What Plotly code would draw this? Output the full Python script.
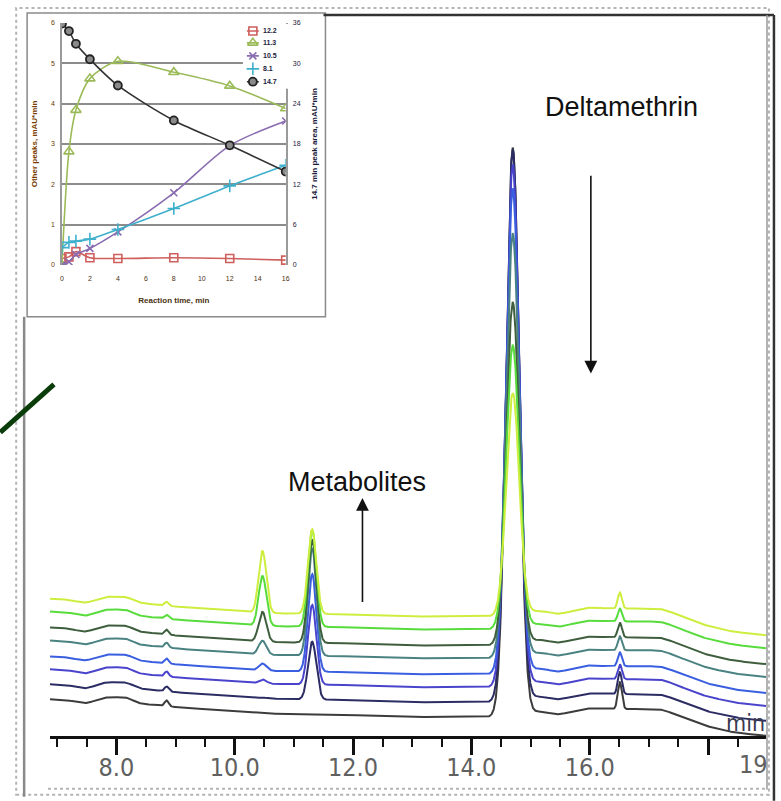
import numpy as np
import plotly.graph_objects as go

# ---------------- inset: peak areas against reaction time ----------------
reaction_time = [0, 0.5, 1, 2, 4, 8, 12, 16]
area_12_2 = [0.16, 0.20, 0.33, 0.18, 0.16, 0.18, 0.16, 0.12]
area_11_3 = [0.0, 2.81, 3.84, 4.62, 5.05, 4.78, 4.44, 3.88]
area_10_5 = [0.0, 0.08, 0.26, 0.41, 0.82, 1.79, 2.96, 3.57]
area_8_1 = [0.43, 0.56, 0.59, 0.64, 0.88, 1.40, 1.96, 2.47]
area_14_7 = [35.9, 34.8, 32.9, 30.6, 26.7, 21.5, 17.8, 13.9]
inset_labels = ["12.2", "11.3", "10.5", "8.1", "14.7"]
inset_x_ticks = [0, 2, 4, 6, 8, 10, 12, 14, 16]
inset_left_ticks = [0, 1, 2, 3, 4, 5, 6]
inset_right_ticks = [0, 6, 12, 18, 24, 30, 36]

# ---------------- chromatogram overlay (one run per reaction time) ----------------
# runs listed bottom to top: 0, 0.5, 1, 2, 4, 8, 12, 16 min
run_colors = ["#3c3c3c", "#2c2c64", "#4a44cc", "#3a5ee0",
              "#4a8282", "#3e5e3e", "#58dc3c", "#cdee3e"]
run_offsets = [0, 15, 30, 43, 59, 72, 88, 101]

# baseline of the lowest run (signal units)
baseline_rt = [6.88, 7.2, 7.47, 7.8, 8.2, 8.35, 8.8, 9.2, 10.0, 10.3, 10.9, 12.0,
               12.8, 14.4, 15.2, 15.45, 15.95, 16.4, 17.2, 17.35, 17.9, 18.4, 18.98]
baseline_level = [37, 36, 32, 39, 39, 33, 30, 28, 25, 23, 22, 21,
                  19, 19, 25, 21, 28, 27, 27, 24, 11, 4, 0]

# peak retention times / widths and heights per run
peak_rt = [8.85, 10.47, 11.31, 14.70, 16.51]
peak_sigma = [0.035, 0.065, 0.07, 0.11, 0.035]
height_8_85 = [6, 5, 5, 5, 5, 5, 4, 4]
height_10_47 = [0, 1, 4, 7, 14, 30, 50, 62]
height_11_31 = [0, 58, 80, 98, 108, 103, 97, 85]
height_14_70 = [569, 552, 522, 485, 424, 342, 283, 222]
height_16_51 = [27, 22, 15, 14, 14, 15, 13, 16]
peak_heights = [height_8_85, height_10_47, height_11_31, height_14_70, height_16_51]

rt_range = [6.879, 18.98]
rt_major = [8, 10, 12, 14, 16, 18]
rt_major_text = ["8.0", "10.0", "12.0", "14.0", "16.0", ""]

# ---------------- page geometry ----------------
W, H = 781, 801
ML, MR, MT, MB = 50, 11, 12, 65
PW, PH = W - ML - MR, H - MT - MB


def fx(px):
    return (px - ML) / PW


def fy(py):
    return (H - MB - py) / PH


fig = go.Figure()

# chromatogram runs
rt = np.linspace(rt_range[0], rt_range[1], 2400)
base = np.interp(rt, baseline_rt, baseline_level)
kern = np.exp(-0.5 * (np.arange(-40, 41) / 14.0) ** 2)
kern /= kern.sum()
base = np.convolve(np.pad(base, 40, mode="edge"), kern, mode="valid")

for i, (col, off) in enumerate(zip(run_colors, run_offsets)):
    sig = base + off
    for rt0, sg, hts in zip(peak_rt, peak_sigma, peak_heights):
        sig = sig + hts[i] * np.exp(-0.5 * ((rt - rt0) / sg) ** 2)
    fig.add_trace(go.Scatter(x=rt, y=sig, mode="lines",
                             line=dict(color=col, width=2),
                             xaxis="x", yaxis="y", showlegend=False,
                             hoverinfo="skip"))

# inset series
inset_series = [
    (area_12_2, "#cf5f5c", dict(symbol="square-open", size=8, line=dict(width=1.6)), "y2"),
    (area_11_3, "#9bbb59", dict(symbol="triangle-up-open", size=9, line=dict(width=1.6)), "y2"),
    (area_10_5, "#8a6cb0", dict(symbol="x-thin", size=7, line=dict(width=1.6, color="#8a6cb0")), "y2"),
    (area_8_1, "#3fb0cc", dict(symbol="cross-thin", size=9, line=dict(width=1.6, color="#3fb0cc")), "y2"),
    (area_14_7, "#333333", dict(symbol="circle", size=8, color="#8a8a8a",
                                 line=dict(width=1.8, color="#222222")), "y3"),
]
for (vals, col, mk, yax), name in zip(inset_series, inset_labels):
    mk = dict(mk)
    mk.setdefault("color", col)
    fig.add_trace(go.Scatter(x=reaction_time, y=vals, mode="lines+markers", name=name,
                             line=dict(color=col, width=1.6, shape="spline", smoothing=0.8),
                             marker=mk, xaxis="x2", yaxis=yax, showlegend=False,
                             hoverinfo="skip"))

# inset legend (drawn on its own small axes)
legend_rows = [28, 40, 53, 66, 79]
for (vals, col, mk, yax), name, row in zip(inset_series, inset_labels, legend_rows):
    mk = dict(mk)
    mk.setdefault("color", col)
    fig.add_trace(go.Scatter(x=[248, 260], y=[row, row], mode="lines",
                             line=dict(color=col, width=1.6), xaxis="x4", yaxis="y4",
                             showlegend=False, hoverinfo="skip"))
    fig.add_trace(go.Scatter(x=[254], y=[row], mode="markers", marker=mk,
                             xaxis="x4", yaxis="y4", showlegend=False, hoverinfo="skip"))

annotations = []
for name, row in zip(inset_labels, legend_rows):
    annotations.append(dict(x=262, y=row, xref="x4", yref="y4", text="<b>%s</b>" % name,
                            showarrow=False, xanchor="left", yanchor="middle",
                            font=dict(size=7, color="#1a1a3a", family="Liberation Sans")))

label_font = dict(family="Liberation Sans, Arial, sans-serif", size=27, color="#111111")
narrow = "Liberation Sans Narrow, Arial Narrow, DejaVu Sans Condensed, Liberation Sans"
annotations += [
    dict(x=fx(625), y=fy(104), xref="paper", yref="paper", text="Deltamethrin",
         showarrow=False, xanchor="center", yanchor="middle", font=label_font),
    dict(x=fx(359), y=fy(481), xref="paper", yref="paper", text="Metabolites",
         showarrow=False, xanchor="center", yanchor="middle", font=label_font),
    # arrows
    dict(x=16.02, y=PH - (372 - MT), xref="x", yref="y", ax=16.02, ay=PH - (172 - MT),
         axref="x", ayref="y", text="", showarrow=True, arrowhead=2, arrowsize=1.6,
         arrowwidth=1.6, arrowcolor="#111111"),
    dict(x=12.16, y=PH - (497 - MT), xref="x", yref="y", ax=12.16, ay=PH - (603 - MT),
         axref="x", ayref="y", text="", showarrow=True, arrowhead=2, arrowsize=1.6,
         arrowwidth=1.6, arrowcolor="#111111"),
    dict(x=fx(774), y=fy(765), xref="paper", yref="paper", text="19", showarrow=False,
         xanchor="right", yanchor="middle",
         font=dict(family=narrow, size=25, color="#606060")),
    dict(x=fx(771), y=fy(723), xref="paper", yref="paper", text="min", showarrow=False,
         xanchor="right", yanchor="middle",
         font=dict(family=narrow, size=23, color="#3a3a50")),
]

shapes = [
    # inset panel
    dict(type="rect", xref="paper", yref="paper", x0=fx(27), x1=fx(327), y0=fy(315), y1=fy(10),
         fillcolor="white", line=dict(color="#8a8a8a", width=1.5), layer="below"),
    # dotted page outline
    dict(type="rect", xref="paper", yref="paper", x0=fx(16), x1=fx(773), y0=fy(795), y1=fy(5),
         line=dict(color="#b4b4b4", width=2, dash="dot"), layer="above"),
    dict(type="line", xref="paper", yref="paper", x0=fx(48), x1=fx(770), y0=fy(789), y1=fy(789),
         line=dict(color="#b4b4b4", width=2, dash="dot")),
    # solid frame lines
    dict(type="line", xref="paper", yref="paper", x0=fx(325), x1=fx(778), y0=fy(12), y1=fy(12),
         line=dict(color="#333333", width=2.5)),
    dict(type="line", xref="paper", yref="paper", x0=fx(778), x1=fx(778), y0=fy(12), y1=fy(801),
         line=dict(color="#333333", width=2.5)),
    dict(type="line", xref="paper", yref="paper", x0=fx(24), x1=fx(24), y0=fy(315), y1=fy(797),
         line=dict(color="#8a8a8a", width=2.5)),
    dict(type="line", xref="paper", yref="paper", x0=fx(771), x1=fx(771), y0=fy(12), y1=fy(790),
         line=dict(color="#9a9a9a", width=1.5)),
    # connector stroke at left
    dict(type="line", xref="paper", yref="paper", x0=fx(0), x1=fx(54), y0=fy(431), y1=fy(383),
         line=dict(color="#0b3d0b", width=5)),
]

tiny = dict(family="Liberation Sans, Arial, sans-serif", size=7)
fig.update_layout(
    width=W, height=H, margin=dict(l=ML, r=MR, t=MT, b=MB, pad=0),
    paper_bgcolor="white", plot_bgcolor="white",
    xaxis=dict(domain=[0, 1], range=rt_range, anchor="y",
               showline=True, linecolor="#111111", linewidth=3,
               ticks="outside", ticklen=16, tickwidth=2.5, tickcolor="#111111",
               tickvals=rt_major, ticktext=rt_major_text, ticklabelstandoff=-9,
               minor=dict(dtick=0.5, tick0=0, ticks="outside", ticklen=8, tickwidth=2,
                          tickcolor="#111111", showgrid=False),
               tickfont=dict(family=narrow, size=25, color="#606060"),
               showgrid=False, zeroline=False),
    yaxis=dict(domain=[0, 1], range=[0, PH], visible=False, anchor="x"),
    xaxis2=dict(domain=[fx(62), fx(287)], range=[0, 16], anchor="y2",
                tickvals=inset_x_ticks, ticks="", showgrid=False, zeroline=False,
                showline=False, tickfont=dict(tiny, color="#4a3010"), ticklabelstandoff=8,
                title=dict(text="<b>Reaction time, min</b>", standoff=16,
                           font=dict(family="Liberation Sans", size=8, color="#4a3010"))),
    yaxis2=dict(domain=[fy(263), fy(20)], range=[0, 6], anchor="x2",
                tickvals=inset_left_ticks, ticks="", showgrid=True, gridcolor="#8c8c8c",
                gridwidth=2, zeroline=False, showline=True, linecolor="#9a9a9a",
                linewidth=1.5, tickfont=dict(tiny, color="#6a3a00"), ticklabelstandoff=4,
                title=dict(text="<b>Other peaks, mAU*min</b>", standoff=12,
                           font=dict(family="Liberation Sans", size=8, color="#7a3c00"))),
    yaxis3=dict(overlaying="y2", side="right", range=[0, 36], anchor="x2",
                tickvals=inset_right_ticks, ticks="", showgrid=False, zeroline=False,
                showline=True, linecolor="#9a9a9a", linewidth=1.5, ticklabelstandoff=4,
                tickfont=dict(tiny, color="#1a1a3a"),
                title=dict(text="<b>14.7 min peak area, mAU*min</b>", standoff=12,
                           font=dict(family="Liberation Sans", size=8, color="#1a1a3a"))),
    xaxis4=dict(domain=[fx(244), fx(290)], range=[244, 290], anchor="y4", visible=False),
    yaxis4=dict(domain=[fy(86), fy(21)], range=[86, 21], anchor="x4", visible=False),
    annotations=annotations, shapes=shapes,
)

fig.write_html("out.html")
